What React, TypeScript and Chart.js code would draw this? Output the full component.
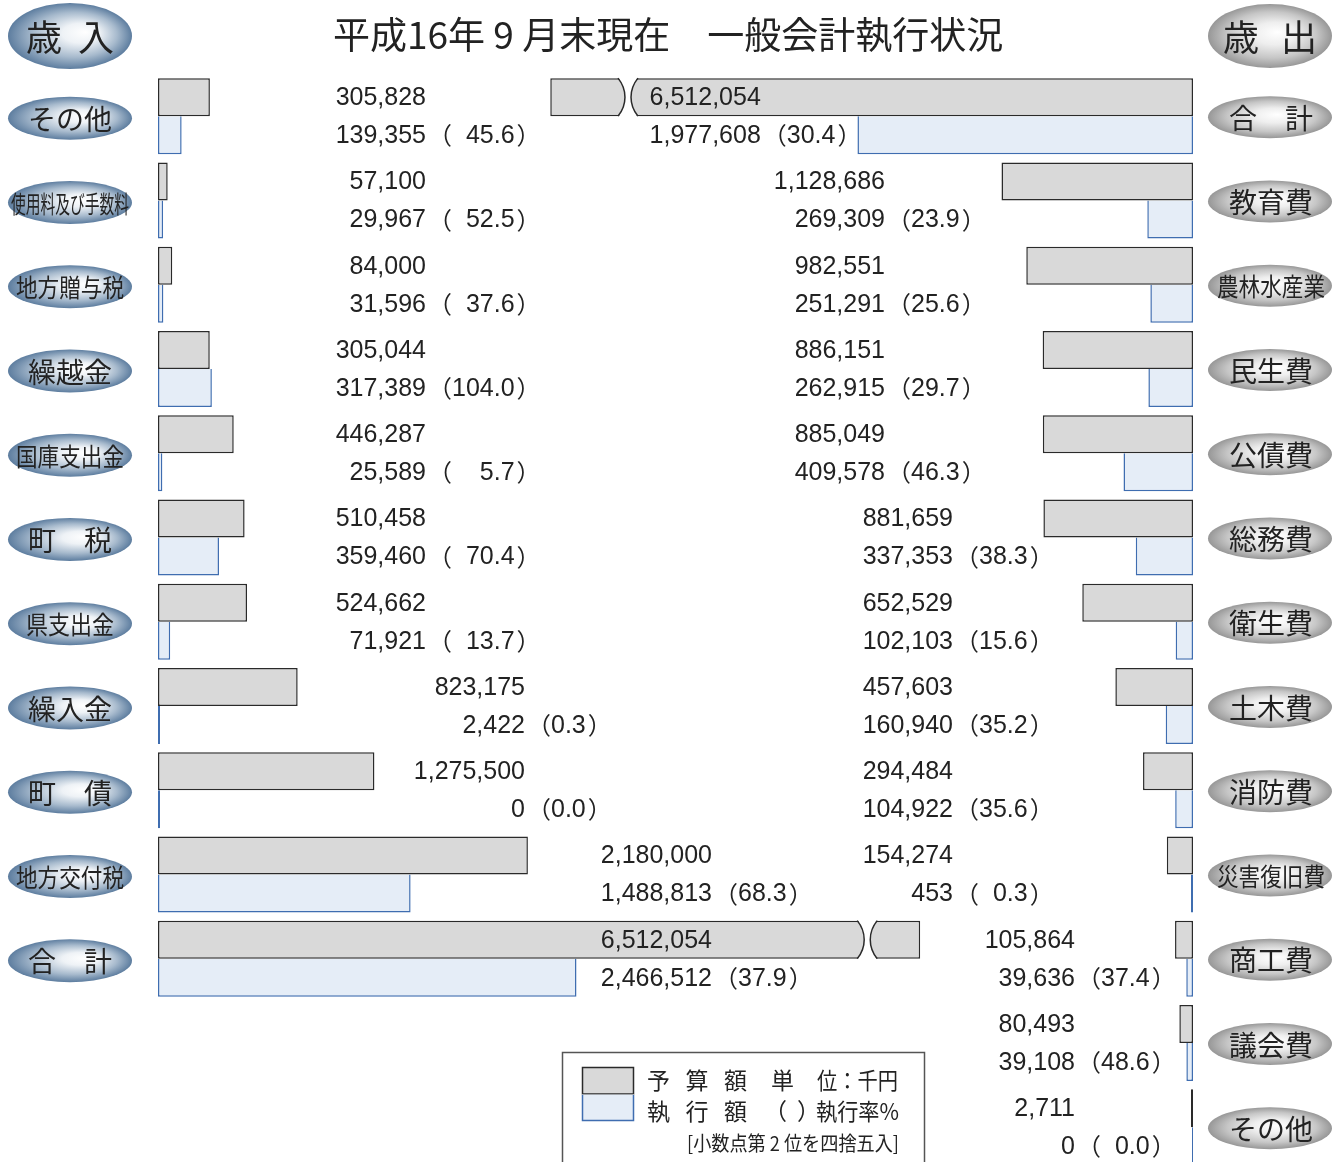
import React, { useEffect, useRef } from 'react';
import { Chart, registerables } from 'chart.js';

Chart.register(...registerables);

// ---------- text ----------
const TITLE = '平成16年 9 月末現在　一般会計執行状況';
const REVENUE_HEADER = ['歳', '入'];
const EXPENSE_HEADER = ['歳', '出'];
const LEGEND_BUDGET = '予算額';
const LEGEND_EXEC = '執行額';
const LEGEND_UNIT_A = '単';
const LEGEND_UNIT_B = '位：千円';
const LEGEND_RATE = '執行率%';
const LEGEND_NOTE = '[小数点第 2 位を四捨五入]';

// ---------- data (千円 / %) ----------
const revenueCategories = ['その他', '使用料及び手数料', '地方贈与税', '繰越金', '国庫支出金', '町　税', '県支出金', '繰入金', '町　債', '地方交付税', '合　計'];
const revenueBudget = [305828, 57100, 84000, 305044, 446287, 510458, 524662, 823175, 1275500, 2180000, 6512054];
const revenueExecuted = [139355, 29967, 31596, 317389, 25589, 359460, 71921, 2422, 0, 1488813, 2466512];
const revenueRate = [45.6, 52.5, 37.6, 104.0, 5.7, 70.4, 13.7, 0.3, 0.0, 68.3, 37.9];

const expenseCategories = ['合　計', '教育費', '農林水産業', '民生費', '公債費', '総務費', '衛生費', '土木費', '消防費', '災害復旧費', '商工費', '議会費', 'その他'];
const expenseBudget = [6512054, 1128686, 982551, 886151, 885049, 881659, 652529, 457603, 294484, 154274, 105864, 80493, 2711];
const expenseExecuted = [1977608, 269309, 251291, 262915, 409578, 337353, 102103, 160940, 104922, 453, 39636, 39108, 0];
const expenseRate = [30.4, 23.9, 25.6, 29.7, 46.3, 38.3, 15.6, 35.2, 35.6, 0.3, 37.4, 48.6, 0.0];

// axis break on the two "合計" budget bars: `at` = where the mark sits, `cut` = value removed by the break
const AXIS_MAX = 6100000;
const revenueTotalBreak = { at: 4180000, cut: 2020000 };
const expenseTotalBreak = { at: 3330000, cut: 2724000 };

// ---------- layout / style ----------
const W = 1332;
const CANVAS_H = 1180;
const PLOT_LEFT = 158;
const PLOT_RIGHT = 1193;
const PLOT_TOP = 74;
const ROW_PITCH = 84.25;
const REV_LABEL_RIGHT = [426, 525, 712];
const REV_LABEL_COL = [0, 0, 0, 0, 0, 0, 0, 1, 1, 2, 2];
const EXP_LABEL_RIGHT = [885, 953, 1075];
const EXP_LABEL_COL = [-1, 0, 0, 0, 0, 1, 1, 1, 1, 1, 2, 2, 2];

const BUDGET_FILL = '#d9d9d9';
const BUDGET_BORDER = '#2a2a2a';
const EXEC_FILL = '#e5edf7';
const EXEC_BORDER = '#3f6db0';
const TEXT = '#222222';
const NUM_FONT = '25px "Liberation Sans", Arial, sans-serif';
const CJK = '"Noto Sans CJK JP", "Noto Sans CJK SC", sans-serif';

const fmt = (v: number) => v.toLocaleString('en-US');

function drawBreak(ctx: CanvasRenderingContext2D, bx: number, top: number, bottom: number) {
  const h = bottom - top;
  ctx.save();
  ctx.beginPath();
  ctx.moveTo(bx - 10, top - 1.5);
  ctx.bezierCurveTo(bx - 0.7, top + h * 0.3, bx - 0.7, top + h * 0.7, bx - 10, bottom + 1.5);
  ctx.lineTo(bx + 10, bottom + 1.5);
  ctx.bezierCurveTo(bx + 0.7, top + h * 0.7, bx + 0.7, top + h * 0.3, bx + 10, top - 1.5);
  ctx.closePath();
  ctx.fillStyle = '#ffffff';
  ctx.fill();
  ctx.strokeStyle = BUDGET_BORDER;
  ctx.lineWidth = 1.5;
  ctx.beginPath();
  ctx.moveTo(bx - 10, top);
  ctx.bezierCurveTo(bx - 0.7, top + h * 0.3, bx - 0.7, top + h * 0.7, bx - 10, bottom);
  ctx.stroke();
  ctx.beginPath();
  ctx.moveTo(bx + 10, top);
  ctx.bezierCurveTo(bx + 0.7, top + h * 0.3, bx + 0.7, top + h * 0.7, bx + 10, bottom);
  ctx.stroke();
  ctx.restore();
}

function drawBadge(ctx: CanvasRenderingContext2D, cx: number, cy: number, rx: number, ry: number, blue: boolean) {
  ctx.save();
  ctx.translate(cx, cy);
  ctx.scale(1, ry / rx);
  const g = ctx.createRadialGradient(rx * (blue ? 0.25 : 0.12), -rx * 0.12, 0, 0, 0, rx);
  if (blue) {
    g.addColorStop(0, '#ffffff');
    g.addColorStop(0.3, '#eef2f6');
    g.addColorStop(0.68, '#a7bacd');
    g.addColorStop(1, '#5d7d9f');
  } else {
    g.addColorStop(0, '#ffffff');
    g.addColorStop(0.35, '#eeeeee');
    g.addColorStop(0.72, '#c6c6c6');
    g.addColorStop(1, '#979797');
  }
  ctx.beginPath();
  ctx.arc(0, 0, rx, 0, Math.PI * 2);
  ctx.fillStyle = g;
  ctx.fill();
  ctx.restore();
}

function drawBadgeText(ctx: CanvasRenderingContext2D, text: string, cx: number, cy: number) {
  const n = text.length;
  let size = 28;
  let maxW: number | undefined;
  if (n === 4) { size = 25; maxW = 88; }
  else if (n === 5) { size = 25; maxW = 108; }
  else if (n > 5) { size = 24; maxW = 118; }
  ctx.font = `${size}px ${CJK}`;
  ctx.fillStyle = TEXT;
  ctx.textAlign = 'center';
  ctx.textBaseline = 'middle';
  if (maxW) ctx.fillText(text, cx, cy, maxW);
  else ctx.fillText(text, cx, cy);
}

function rateStr(r: number) {
  return r.toFixed(1);
}

function drawPair(ctx: CanvasRenderingContext2D, numRight: number, yB: number, yE: number, b: number, e: number, r: number, slotW: number) {
  ctx.fillStyle = TEXT;
  ctx.textBaseline = 'middle';
  ctx.font = NUM_FONT;
  ctx.textAlign = 'right';
  ctx.fillText(fmt(b), numRight, yB + 1);
  ctx.fillText(fmt(e), numRight, yE + 1);
  ctx.fillText(rateStr(r), numRight + 26 + slotW, yE + 1);
  ctx.font = `24px ${CJK}`;
  ctx.textAlign = 'left';
  ctx.fillText('（', numRight + 2, yE);
  ctx.fillText('）', numRight + 28 + slotW, yE);
}

function slotWidths(ctx: CanvasRenderingContext2D, cols: number[], rates: number[]) {
  ctx.font = NUM_FONT;
  const m: Record<number, number> = {};
  cols.forEach((c, i) => {
    const w = ctx.measureText(rateStr(rates[i])).width;
    m[c] = Math.max(m[c] || 0, w);
  });
  return m;
}

const overlayPlugin = {
  id: 'overlay',
  afterDatasetsDraw(chart: any) {
    const ctx: CanvasRenderingContext2D = chart.ctx;
    const xL = chart.scales.xL;
    const xR = chart.scales.xR;
    const revTotal = revenueCategories.indexOf('合　計');
    const expTotal = expenseCategories.indexOf('合　計');

    // breaks
    const lb = chart.getDatasetMeta(0).data[revTotal];
    drawBreak(ctx, xL.getPixelForValue(revenueTotalBreak.at), lb.y - lb.height / 2, lb.y + lb.height / 2);
    const rb = chart.getDatasetMeta(2).data[expTotal];
    drawBreak(ctx, xR.getPixelForValue(expenseTotalBreak.at), rb.y - rb.height / 2, rb.y + rb.height / 2);

    // revenue labels
    const revSlots = slotWidths(ctx, REV_LABEL_COL, revenueRate);
    revenueCategories.forEach((_, i) => {
      const eb = chart.getDatasetMeta(0).data[i];
      const ee = chart.getDatasetMeta(1).data[i];
      const c = REV_LABEL_COL[i];
      drawPair(ctx, REV_LABEL_RIGHT[c], eb.y, ee.y, revenueBudget[i], revenueExecuted[i], revenueRate[i], revSlots[c]);
    });

    // expense labels
    const expSlots = slotWidths(ctx, EXP_LABEL_COL, expenseRate);
    expenseCategories.forEach((_, i) => {
      const eb = chart.getDatasetMeta(2).data[i];
      const ee = chart.getDatasetMeta(3).data[i];
      const c = EXP_LABEL_COL[i];
      const slot = expSlots[c];
      const numRight = c >= 0 ? EXP_LABEL_RIGHT[c] : ee.x - 10 - 38 - slot;
      drawPair(ctx, numRight, eb.y, ee.y, expenseBudget[i], expenseExecuted[i], expenseRate[i], slot);
    });

    // badges
    const y = chart.scales.y;
    drawBadge(ctx, 70, 36, 62, 33, true);
    drawBadge(ctx, 1270, 36, 62, 32, false);
    ctx.font = `36px ${CJK}`;
    ctx.fillStyle = TEXT;
    ctx.textAlign = 'center';
    ctx.textBaseline = 'middle';
    ctx.fillText(REVENUE_HEADER[0], 44, 37);
    ctx.fillText(REVENUE_HEADER[1], 96, 37);
    ctx.fillText(EXPENSE_HEADER[0], 1241, 37);
    ctx.fillText(EXPENSE_HEADER[1], 1299, 37);

    revenueCategories.forEach((label, i) => {
      const cy = y.getPixelForValue(i) + 2;
      drawBadge(ctx, 70, cy, 62, 21.5, true);
      drawBadgeText(ctx, label, 70, cy + 1);
    });
    expenseCategories.forEach((label, i) => {
      const cy = y.getPixelForValue(i) + 1;
      drawBadge(ctx, 1270, cy, 62, 21, false);
      drawBadgeText(ctx, label, 1271, cy + 1);
    });

    // title
    ctx.font = `37px ${CJK}`;
    ctx.fillStyle = TEXT;
    ctx.textAlign = 'left';
    ctx.textBaseline = 'middle';
    ctx.fillText(TITLE, 333, 35, 673);

    // legend
    ctx.save();
    ctx.strokeStyle = '#555555';
    ctx.lineWidth = 1.5;
    ctx.strokeRect(562.5, 1052.5, 362, 160);
    ctx.fillStyle = BUDGET_FILL;
    ctx.fillRect(582, 1067, 52, 27);
    ctx.strokeStyle = BUDGET_BORDER;
    ctx.strokeRect(582.5, 1067.5, 51, 26.5);
    ctx.fillStyle = EXEC_FILL;
    ctx.fillRect(582, 1094.5, 52, 26.5);
    ctx.strokeStyle = EXEC_BORDER;
    ctx.beginPath();
    ctx.moveTo(582.5, 1095);
    ctx.lineTo(582.5, 1120.5);
    ctx.lineTo(633.5, 1120.5);
    ctx.lineTo(633.5, 1095);
    ctx.stroke();
    ctx.restore();

    ctx.fillStyle = TEXT;
    ctx.textAlign = 'left';
    ctx.textBaseline = 'middle';
    ctx.font = `23px ${CJK}`;
    [LEGEND_BUDGET, LEGEND_EXEC].forEach((s, row) => {
      const yy = 1080 + row * 31;
      [...s].forEach((ch, k) => ctx.fillText(ch, 647 + k * 38.5, yy));
    });
    ctx.fillText(LEGEND_UNIT_A, 771, 1080);
    ctx.fillText(LEGEND_UNIT_B, 817, 1080, 81);
    ctx.fillText('（', 764, 1111);
    ctx.fillText('）', 797, 1111);
    ctx.fillText(LEGEND_RATE, 816, 1111, 83);
    ctx.font = `20px ${CJK}`;
    ctx.fillText(LEGEND_NOTE, 687, 1143, 212);
  },
};

export default function App() {
  const ref = useRef<HTMLCanvasElement | null>(null);
  useEffect(() => {
    if (!ref.current) return;
    const rows = Math.max(revenueCategories.length, expenseCategories.length);
    const labels = Array.from({ length: rows }, (_, i) => String(i));
    const pad = (arr: number[]) => labels.map((_, i) => (i < arr.length ? arr[i] : null));
    const revTotal = revenueCategories.indexOf('合　計');
    const expTotal = expenseCategories.indexOf('合　計');
    const revBudgetShown = revenueBudget.map((v, i) => (i === revTotal ? v - revenueTotalBreak.cut : v));
    const expBudgetShown = expenseBudget.map((v, i) => (i === expTotal ? v - expenseTotalBreak.cut : v));
    const barH = 76;
    const common = { borderWidth: 1.5, minBarLength: 2, categoryPercentage: barH / ROW_PITCH, barPercentage: 1 };
    const chart = new Chart(ref.current, {
      type: 'bar',
      data: {
        labels,
        datasets: [
          { label: LEGEND_BUDGET, data: pad(revBudgetShown), xAxisID: 'xL', yAxisID: 'y', stack: 'budget', backgroundColor: BUDGET_FILL, borderColor: BUDGET_BORDER, borderSkipped: false, ...common },
          { label: LEGEND_EXEC, data: pad(revenueExecuted), xAxisID: 'xL', yAxisID: 'y', stack: 'exec', backgroundColor: EXEC_FILL, borderColor: EXEC_BORDER, borderSkipped: 'top', ...common },
          { label: LEGEND_BUDGET, data: pad(expBudgetShown), xAxisID: 'xR', yAxisID: 'y', stack: 'budget', backgroundColor: BUDGET_FILL, borderColor: BUDGET_BORDER, borderSkipped: false, ...common },
          { label: LEGEND_EXEC, data: pad(expenseExecuted), xAxisID: 'xR', yAxisID: 'y', stack: 'exec', backgroundColor: EXEC_FILL, borderColor: EXEC_BORDER, borderSkipped: 'top', ...common },
        ] as any,
      },
      options: {
        indexAxis: 'y',
        responsive: false,
        animation: false,
        events: [],
        layout: {
          padding: {
            left: PLOT_LEFT,
            right: W - PLOT_RIGHT,
            top: PLOT_TOP,
            bottom: CANVAS_H - PLOT_TOP - ROW_PITCH * rows,
          },
        },
        scales: {
          y: { type: 'category', display: false, offset: true, grid: { display: false } },
          xL: { type: 'linear', axis: 'x', position: 'bottom', min: 0, max: AXIS_MAX, display: false, stacked: false, grid: { display: false } },
          xR: { type: 'linear', axis: 'x', position: 'top', reverse: true, min: 0, max: AXIS_MAX, display: false, stacked: false, grid: { display: false } },
        },
        plugins: { legend: { display: false }, tooltip: { enabled: false }, title: { display: false } },
      } as any,
      plugins: [overlayPlugin],
    });
    return () => chart.destroy();
  }, []);

  return (
    <div style={{ position: 'absolute', left: 0, top: 0, width: W, height: 1162, overflow: 'hidden', background: '#fff' }}>
      <canvas ref={ref} width={W} height={CANVAS_H} style={{ display: 'block' }} />
    </div>
  );
}
